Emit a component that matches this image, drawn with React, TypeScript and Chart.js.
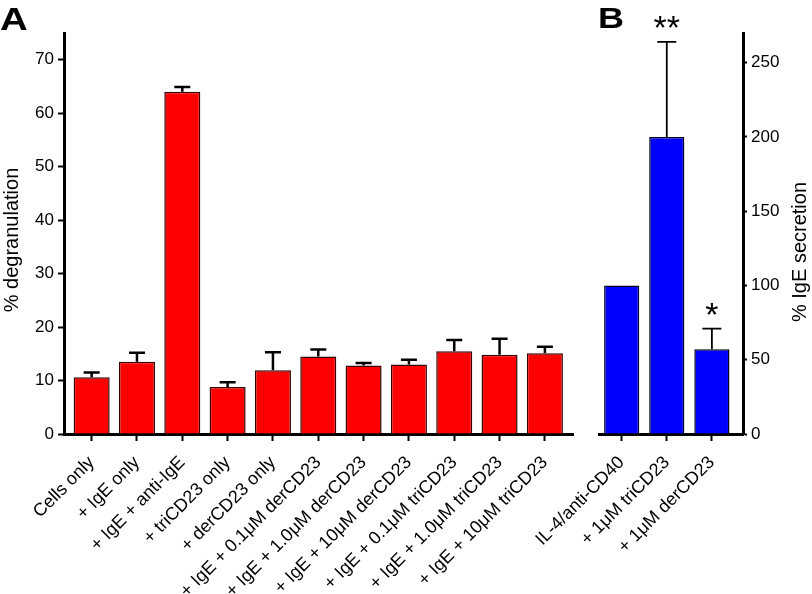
import React, { useEffect, useRef } from "react";
import { Chart, registerables } from "chart.js";

Chart.register(...registerables);

// ---------- data ----------
const categoriesA = [
  "Cells only",
  "+ IgE only",
  "+ IgE + anti-IgE",
  "+ triCD23 only",
  "+ derCD23 only",
  "+ IgE + 0.1\u03bcM derCD23",
  "+ IgE + 1.0\u03bcM derCD23",
  "+ IgE + 10\u03bcM derCD23",
  "+ IgE + 0.1\u03bcM triCD23",
  "+ IgE + 1.0\u03bcM triCD23",
  "+ IgE + 10\u03bcM triCD23",
];
const valuesA = [10.6, 13.5, 64.0, 8.8, 11.9, 14.5, 12.8, 13.0, 15.5, 14.8, 15.1];
const errorsA = [0.9, 1.7, 0.9, 0.9, 3.4, 1.3, 0.5, 0.9, 2.1, 3.0, 1.2];
const ticksA = [0, 10, 20, 30, 40, 50, 60, 70];

const categoriesB = ["IL-4/anti-CD40", "+ 1\u03bcM triCD23", "+ 1\u03bcM derCD23"];
const valuesB = [100, 200, 57];
const errorsB = [0, 64, 14];
const starsB = ["", "**", "*"];
const ticksB = [0, 50, 100, 150, 200, 250];

const titleA = "% degranulation";
const titleB = "% IgE secretion";

const FONT = '"Liberation Sans", Arial, Helvetica, sans-serif';

function errorBars(errors: number[], lineWidth: number, capWidth: number, stars?: string[]) {
  return {
    id: "errbars",
    afterDatasetsDraw(chart: any) {
      const meta = chart.getDatasetMeta(0);
      const ys = chart.scales.y;
      const ctx = chart.ctx;
      ctx.save();
      ctx.strokeStyle = "#000";
      ctx.fillStyle = "#000";
      ctx.lineWidth = lineWidth;
      meta.data.forEach((bar: any, i: number) => {
        const v = chart.data.datasets[0].data[i].y;
        const e = errors[i];
        const yb = ys.getPixelForValue(v);
        const yt = ys.getPixelForValue(v + e);
        if (e > 0) {
          ctx.beginPath();
          ctx.moveTo(bar.x, yb);
          ctx.lineTo(bar.x, yt);
          ctx.moveTo(bar.x - capWidth / 2, yt);
          ctx.lineTo(bar.x + capWidth / 2, yt);
          ctx.stroke();
        }
        if (stars && stars[i]) {
          ctx.font = `34px ${FONT}`;
          ctx.textAlign = "center";
          ctx.textBaseline = "alphabetic";
          ctx.fillText(stars[i], bar.x, yt - 3);
        }
      });
      ctx.restore();
    },
  };
}

function textPlugin(letter: string, lx: number, ly: number, size: number, title: string, tx: number, ty: number) {
  return {
    id: "texts",
    afterDraw(chart: any) {
      const ctx = chart.ctx;
      ctx.save();
      ctx.fillStyle = "#000";
      ctx.font = `bold ${size}px ${FONT}`;
      ctx.textAlign = "left";
      ctx.textBaseline = "alphabetic";
      ctx.save();
      ctx.translate(lx, ly);
      ctx.scale(1.2, 1);
      ctx.fillText(letter, 0, 0);
      ctx.restore();
      ctx.font = `20px ${FONT}`;
      ctx.textAlign = "center";
      ctx.textBaseline = "middle";
      ctx.translate(tx, ty);
      ctx.rotate(-Math.PI / 2);
      ctx.fillText(title, 0, 0);
      ctx.restore();
    },
  };
}

function makeAxisX(categories: string[], min: number, max: number) {
  return {
    type: "linear",
    min,
    max,
    offset: false,
    afterBuildTicks: (s: any) => {
      s.ticks = categories.map((_, i) => ({ value: i }));
    },
    afterFit: (s: any) => {
      s.height = 160;
    },
    ticks: {
      callback: (v: any) => categories[v],
      autoSkip: false,
      minRotation: 45,
      maxRotation: 45,
      color: "#000",
      padding: 11,
      font: { size: 18, family: FONT },
    },
    grid: {
      offset: false,
      drawOnChartArea: false,
      drawTicks: true,
      tickLength: 7,
      tickWidth: 2,
      tickColor: "#000",
    },
    border: { display: true, color: "#000", width: 3 },
  };
}

function makeAxisY(ticks: number[], max: number, width: number, position: string, tickLen: number) {
  return {
    type: "linear",
    position,
    min: 0,
    max,
    afterBuildTicks: (s: any) => {
      s.ticks = ticks.map((v) => ({ value: v }));
    },
    afterFit: (s: any) => {
      s.width = width;
    },
    ticks: {
      color: "#000",
      padding: 4,
      font: { size: 17, family: FONT },
    },
    grid: {
      drawOnChartArea: false,
      drawTicks: true,
      tickLength: tickLen,
      tickWidth: 2,
      tickColor: "#000",
    },
    border: { display: true, color: "#000", width: 3 },
  };
}

export default function App() {
  const refA = useRef<HTMLCanvasElement>(null);
  const refB = useRef<HTMLCanvasElement>(null);

  useEffect(() => {
    const chartA = new Chart(refA.current as HTMLCanvasElement, {
      type: "bar",
      data: {
        datasets: [
          {
            data: valuesA.map((v, i) => ({ x: i, y: v })),
            backgroundColor: "#ff0000",
            borderColor: "#3a0000",
            borderWidth: 1.5,
            barPercentage: 0.795,
            categoryPercentage: 1,
          },
        ],
      },
      options: {
        responsive: false,
        animation: false,
        devicePixelRatio: 1,
        events: [],
        layout: { padding: { left: 0, top: 33, right: 239, bottom: 0 } },
        plugins: { legend: { display: false }, tooltip: { enabled: false } },
        scales: {
          x: makeAxisX(categoriesA, -0.61, 10.62) as any,
          y: makeAxisY(ticksA, 75, 64, "left", 6) as any,
        },
      },
      plugins: [errorBars(errorsA, 2.5, 16), textPlugin("A", 0, 30, 32, titleA, 12, 240)],
    });

    const chartB = new Chart(refB.current as HTMLCanvasElement, {
      type: "bar",
      data: {
        datasets: [
          {
            data: valuesB.map((v, i) => ({ x: i, y: v })),
            backgroundColor: "#0000ff",
            borderColor: "#000020",
            borderWidth: 1.5,
            barPercentage: 0.78,
            categoryPercentage: 1,
          },
        ],
      },
      options: {
        responsive: false,
        animation: false,
        devicePixelRatio: 1,
        events: [],
        layout: { padding: { left: 599, top: 33, right: 0, bottom: 0 } },
        plugins: { legend: { display: false }, tooltip: { enabled: false } },
        scales: {
          x: makeAxisX(categoriesB, -0.503, 2.69) as any,
          y: makeAxisY(ticksB, 270, 69, "right", 4) as any,
        },
      },
      plugins: [errorBars(errorsB, 1.8, 19, starsB), textPlugin("B", 598, 28, 30, titleB, 800, 252)],
    });

    return () => {
      chartA.destroy();
      chartB.destroy();
    };
  }, []);

  const cs: React.CSSProperties = { position: "absolute", left: 0, top: 0, width: 812, height: 594 };
  return (
    <div style={{ position: "absolute", left: 0, top: 0, width: 812, height: 594, background: "#fff", overflow: "hidden" }}>
      <canvas ref={refA} width={812} height={594} style={cs} />
      <canvas ref={refB} width={812} height={594} style={cs} />
    </div>
  );
}
